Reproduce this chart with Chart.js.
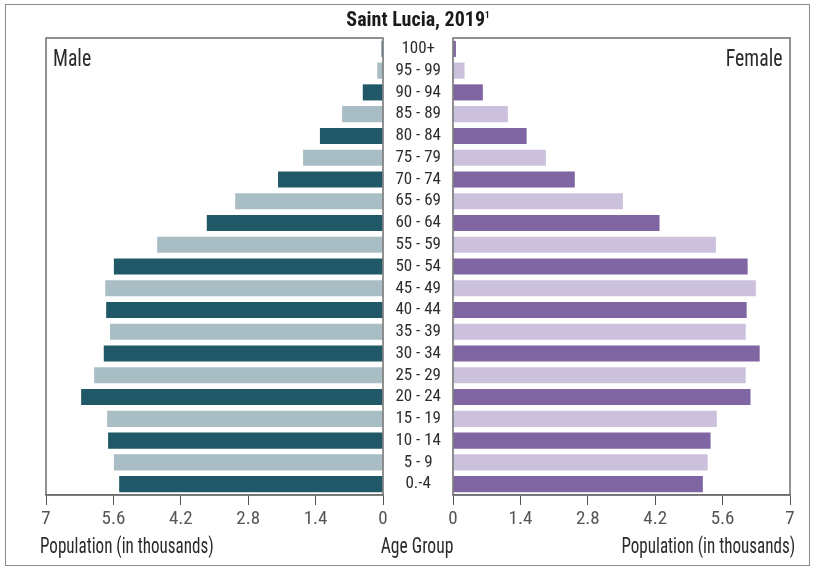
<!DOCTYPE html>
<html><head><meta charset="utf-8">
<script src="https://cdn.jsdelivr.net/npm/chart.js@4.4.1/dist/chart.umd.min.js"></script>
<style>
html,body{margin:0;padding:0;background:#fff;}
#wrap{position:relative;width:816px;height:569px;overflow:hidden;font-family:"Roboto Condensed","Liberation Sans",sans-serif;color:#231f20;}
canvas{position:absolute;left:0;top:0;}
.frame{position:absolute;left:5px;top:4px;width:805px;height:562px;border:1px solid #8a8a8a;box-sizing:border-box;}
.t{position:absolute;white-space:nowrap;line-height:1;}
.ax{font-size:22px;top:535px;color:#2a2a2a;}
.lab{font-size:23.5px;top:47px;color:#2a2a2a;}
</style></head>
<body><div id="wrap">
<div class="frame"></div>
<canvas id="maleChart" width="816" height="569"></canvas>
<canvas id="femaleChart" width="816" height="569"></canvas>
<div class="t" id="title" style="left:318px;width:200px;text-align:center;top:9px;font-size:20px;font-weight:bold;color:#1a1a1a;">Saint Lucia, 2019<sup style="font-size:9px;vertical-align:8px;">1</sup></div>
<div class="t lab" style="left:53px;transform:scaleX(0.84);transform-origin:left top;">Male</div>
<div class="t lab" style="right:34px;transform:scaleX(0.84);transform-origin:right top;">Female</div>
<div class="t ax" style="left:40px;transform:scaleX(0.775);transform-origin:left top;">Population (in thousands)</div>
<div class="t ax" style="left:317px;width:200px;text-align:center;transform:scaleX(0.8);transform-origin:center top;">Age Group</div>
<div class="t ax" style="right:21px;transform:scaleX(0.775);transform-origin:right top;">Population (in thousands)</div>
</div>
<script>
const ageGroups = ['100+','95 - 99','90 - 94','85 - 89','80 - 84','75 - 79','70 - 74','65 - 69','60 - 64','55 - 59','50 - 54','45 - 49','40 - 44','35 - 39','30 - 34','25 - 29','20 - 24','15 - 19','10 - 14','5 - 9','0.-4'];
const male = [0.03,0.12,0.42,0.85,1.31,1.66,2.18,3.07,3.66,4.69,5.59,5.77,5.75,5.67,5.80,6.00,6.27,5.73,5.71,5.59,5.48];
const female = [0.06,0.24,0.62,1.14,1.53,1.93,2.53,3.53,4.29,5.46,6.12,6.29,6.10,6.08,6.37,6.08,6.18,5.48,5.35,5.29,5.19];
const xTicks = [0,1.4,2.8,4.2,5.6,7];
const xTickLabels = ['0','1.4','2.8','4.2','5.6','7'];

const FONT = '"Roboto Condensed","Liberation Sans",sans-serif';
const maleColors = ageGroups.map((_, i) => i % 2 === 0 ? '#205867' : '#a9bdc4');
const femaleColors = ageGroups.map((_, i) => i % 2 === 0 ? '#7f65a1' : '#cbc1dc');

const panelBorder = {
  id: 'panelBorder',
  afterDraw(chart) {
    const a = chart.chartArea, c = chart.ctx;
    c.save();
    c.strokeStyle = '#6e6e6e';
    c.lineWidth = 1.5;
    c.strokeRect(a.left, a.top, a.right - a.left, a.bottom - a.top);
    c.restore();
  }
};

function xScale(reverse) {
  return {
    type: 'linear', reverse: reverse, min: 0, max: 7,
    afterBuildTicks: s => { s.ticks = xTicks.map(v => ({ value: v })); },
    afterFit: s => { s.height = 40; },
    grid: { display: true, drawOnChartArea: false, drawTicks: true, tickLength: 10, color: '#555' },
    border: { display: true, color: '#6e6e6e', width: 1.5 },
    ticks: { font: { family: FONT, size: 19 }, color: '#555', padding: 3, maxRotation: 0, autoSkip: false,
             callback: (v, i) => xTickLabels[i] }
  };
}

Chart.defaults.font.family = FONT;

function build() {
new Chart(document.getElementById('maleChart'), {
  type: 'bar',
  data: { labels: ageGroups, datasets: [{ data: male, backgroundColor: maleColors, barPercentage: 0.74, categoryPercentage: 1 }] },
  options: {
    indexAxis: 'y', responsive: false, animation: false, events: [],
    layout: { padding: { left: 46, right: 816 - 383, top: 38, bottom: 569 - 495 - 40 } },
    plugins: { legend: { display: false }, tooltip: { enabled: false } },
    scales: { x: xScale(true), y: { display: false } }
  },
  plugins: [panelBorder]
});

new Chart(document.getElementById('femaleChart'), {
  type: 'bar',
  data: { labels: ageGroups, datasets: [{ data: female, backgroundColor: femaleColors, barPercentage: 0.74, categoryPercentage: 1 }] },
  options: {
    indexAxis: 'y', responsive: false, animation: false, events: [],
    layout: { padding: { left: 383, right: 816 - 790, top: 38, bottom: 569 - 495 - 40 } },
    plugins: { legend: { display: false }, tooltip: { enabled: false } },
    scales: {
      x: xScale(false),
      y: {
        position: 'left',
        afterFit: s => { s.width = 70; },
        grid: { display: false, drawTicks: false },
        border: { display: false },
        ticks: { font: { family: FONT, size: 17 }, color: '#2e2e2e', crossAlign: 'center', padding: 12, autoSkip: false }
      }
    }
  },
  plugins: [panelBorder]
});
}
if (document.fonts && document.fonts.load) {
  Promise.all([document.fonts.load('17px "Roboto Condensed"'), document.fonts.load('19px "Roboto Condensed"')]).then(build, build);
} else build();
</script>
</body></html>
